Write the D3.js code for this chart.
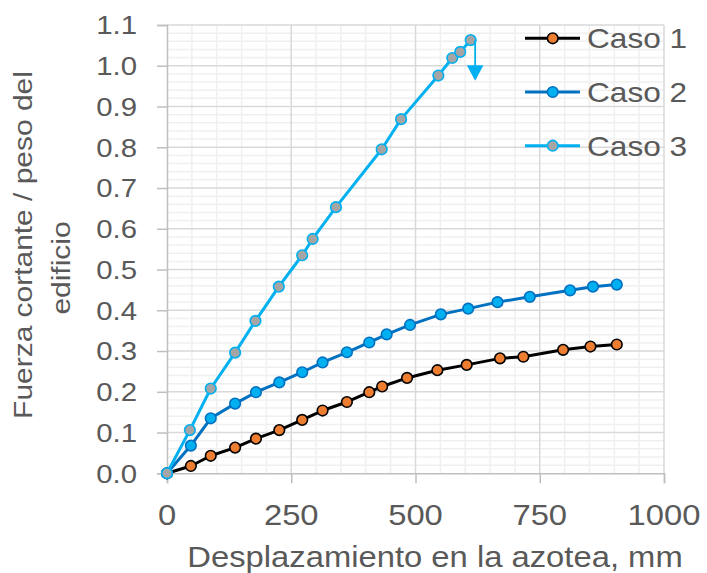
<!DOCTYPE html>
<html>
<head>
<meta charset="utf-8">
<script src="https://cdn.jsdelivr.net/npm/d3@7"></script>
<style>
  html, body { margin: 0; padding: 0; background: #fff; }
  svg { display: block; }
  text { font-family: "Liberation Sans", Arial, sans-serif; fill: #595959; }
</style>
</head>
<body>
<svg id="chart" width="707" height="573"></svg>
<script>
// ---- Data ----
const seriesNames = ["Caso 1", "Caso 2", "Caso 3"];
const caso1X = [0, 48, 88, 137, 179, 226, 272, 313, 362, 407, 433, 483, 544, 603, 670, 717, 797, 852, 905];
const caso1Y = [0, 0.018, 0.043, 0.063, 0.085, 0.106, 0.131, 0.154, 0.175, 0.199, 0.213, 0.234, 0.253, 0.266, 0.282, 0.286, 0.303, 0.311, 0.316];
const caso2X = [0, 48, 88, 137, 179, 226, 272, 313, 362, 407, 442, 489, 551, 606, 665, 730, 811, 857, 905];
const caso2Y = [0, 0.068, 0.135, 0.171, 0.199, 0.223, 0.248, 0.272, 0.297, 0.321, 0.341, 0.364, 0.390, 0.404, 0.420, 0.433, 0.449, 0.458, 0.463];
const caso3X = [0, 46, 88, 137, 178, 225, 272, 293, 340, 432, 471, 546, 574, 590, 611];
const caso3Y = [0, 0.106, 0.208, 0.296, 0.374, 0.458, 0.535, 0.575, 0.653, 0.795, 0.869, 0.976, 1.019, 1.034, 1.063];
const arrowX = 620, arrowTop = 1.063, arrowBottom = 0.963;
const xTicks = [0, 250, 500, 750, 1000];
const yTicks = [0, 0.1, 0.2, 0.3, 0.4, 0.5, 0.6, 0.7, 0.8, 0.9, 1.0, 1.1];
const xTitle = "Desplazamiento en la azotea, mm";
const yTitleLines = ["Fuerza cortante / peso del", "edificio"];

// ---- Layout ----
const svg = d3.select("#chart");
const x = d3.scaleLinear().domain([0, 1000]).range([167, 664]);
const y = d3.scaleLinear().domain([0, 1.1]).range([473.3, 25]);
const STRETCH = 1.13;

const styles = [
  { line: "#000000", fill: "#ED7D31", stroke: "#000000" },
  { line: "#0070C0", fill: "#00B0F0", stroke: "#0070C0" },
  { line: "#00B0F0", fill: "#A5A5A5", stroke: "#00B0F0" }
];

// minor gridlines
const g = svg.append("g");
g.selectAll(".mx").data(d3.range(50, 1001, 50).filter(v => v % 250 !== 0))
  .join("line").attr("x1", d => x(d)).attr("x2", d => x(d))
  .attr("y1", y(0)).attr("y2", y(1.1))
  .attr("stroke", "#f0f0f0").attr("stroke-width", 1.5);
g.selectAll(".my").data(d3.range(1, 56).filter(i => i % 5 !== 0).map(i => i * 0.02))
  .join("line").attr("x1", x(0)).attr("x2", x(1000))
  .attr("y1", d => y(d)).attr("y2", d => y(d))
  .attr("stroke", "#f0f0f0").attr("stroke-width", 1.5);
// major gridlines
g.selectAll(".Mx").data(xTicks.slice(1))
  .join("line").attr("x1", d => x(d)).attr("x2", d => x(d))
  .attr("y1", y(0)).attr("y2", y(1.1))
  .attr("stroke", "#d9d9d9").attr("stroke-width", 1.5);
g.selectAll(".My").data(yTicks.slice(1))
  .join("line").attr("x1", x(0)).attr("x2", x(1000))
  .attr("y1", d => y(d)).attr("y2", d => y(d))
  .attr("stroke", "#d9d9d9").attr("stroke-width", 1.5);

// axes
const xAxis = d3.axisBottom(x).tickValues(xTicks).tickSize(10).tickFormat("");
const yAxis = d3.axisLeft(y).tickValues(yTicks).tickSize(10).tickFormat("");
const gx = svg.append("g").attr("transform", `translate(0,${y(0)})`).call(xAxis);
const gy = svg.append("g").attr("transform", `translate(${x(0)},0)`).call(yAxis);
[gx, gy].forEach(a => {
  a.select(".domain").attr("stroke", "#bfbfbf").attr("stroke-width", 1.5);
  a.selectAll(".tick line").attr("stroke", "#bfbfbf").attr("stroke-width", 1.5);
});

function stext(sel, tx, ty, str, size, anchor, rot) {
  return sel.append("text")
    .attr("transform", `translate(${tx},${ty})` + (rot ? ` rotate(${rot})` : "") + ` scale(${STRETCH},1)`)
    .attr("text-anchor", anchor)
    .attr("font-size", size)
    .text(str);
}

// tick labels
const fmtY = d3.format(".1f");
yTicks.forEach(v => stext(svg, 137, y(v) + 9.3, fmtY(v), 26, "end"));
xTicks.forEach(v => stext(svg, x(v), 525, String(v), 29, "middle"));

// titles
stext(svg, 435, 567, xTitle, 29, "middle");
stext(svg, 31.5, 245, yTitleLines[0], 26.5, "middle", -90);
stext(svg, 70, 268, yTitleLines[1], 26.5, "middle", -90);

// series
const allX = [caso1X, caso2X, caso3X];
const allY = [caso1Y, caso2Y, caso3Y];
const line = d3.line().x(d => x(d[0])).y(d => y(d[1]));
allX.forEach((xs, i) => {
  const pts = xs.map((v, j) => [v, allY[i][j]]);
  const s = styles[i];
  const sg = svg.append("g");
  sg.append("path").datum(pts).attr("d", line)
    .attr("fill", "none").attr("stroke", s.line).attr("stroke-width", 3)
    .attr("stroke-linejoin", "round");
  sg.selectAll("circle").data(pts).join("circle")
    .attr("cx", d => x(d[0])).attr("cy", d => y(d[1])).attr("r", 5.3)
    .attr("fill", s.fill).attr("stroke", s.stroke).attr("stroke-width", 1.6);
});

// arrow (Caso 3 failure)
svg.append("line")
  .attr("x1", x(arrowX)).attr("x2", x(arrowX))
  .attr("y1", y(arrowTop)).attr("y2", y(arrowBottom) - 14)
  .attr("stroke", "#00B0F0").attr("stroke-width", 1.8);
svg.append("path")
  .attr("d", `M${x(arrowX) - 8.3},${y(arrowBottom) - 15.5} L${x(arrowX) + 8.3},${y(arrowBottom) - 15.5} L${x(arrowX)},${y(arrowBottom)} Z`)
  .attr("fill", "#00B0F0");

// legend
seriesNames.forEach((name, i) => {
  const ly = 38.3 + i * 53.7;
  const s = styles[i];
  svg.append("line").attr("x1", 525).attr("x2", 580).attr("y1", ly).attr("y2", ly)
    .attr("stroke", s.line).attr("stroke-width", 3);
  svg.append("circle").attr("cx", 552.7).attr("cy", ly).attr("r", 5.3)
    .attr("fill", s.fill).attr("stroke", s.stroke).attr("stroke-width", 1.6);
  stext(svg, 587, ly + 10, name, 28, "start");
});
</script>
</body>
</html>
